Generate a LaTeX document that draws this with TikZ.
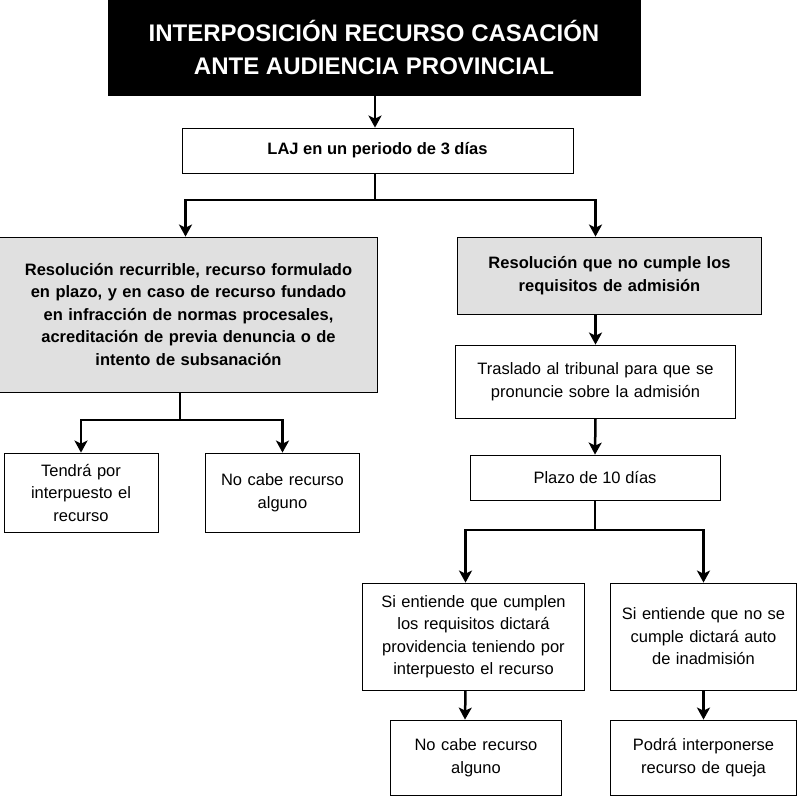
\documentclass[tikz,border=0pt]{standalone}
\usepackage{fontspec}
\setmainfont{Liberation Sans}
\usetikzlibrary{arrows.meta,calc}
\definecolor{grisbox}{RGB}{224,224,224}

\tikzset{
  caja/.style={draw=black, line width=0.8pt, align=center, inner sep=2pt,
    font=\fontsize{16.5}{22.5}\selectfont},
  gris/.style={caja, fill=grisbox, font=\bfseries\fontsize{16.5}{22.5}\selectfont},
  flecha/.style={line width=2.5pt, -{Stealth[length=12pt,width=13pt,inset=3pt]}},
  linea/.style={line width=2.5pt}
}

\begin{document}
\begin{tikzpicture}[x=1pt,y=-1pt]
    \useasboundingbox (0,0) rectangle (800,800);

    % cabecera
    \node[caja, fill=black, text=white, minimum width=532pt, minimum height=95pt,
      font=\bfseries\fontsize{24}{33}\selectfont] (titulo) at (374,47.5)
      {INTERPOSICIÓN RECURSO CASACIÓN\\ANTE AUDIENCIA PROVINCIAL};
    \node[caja, font=\bfseries\fontsize{16.5}{22}\selectfont, minimum width=391pt, minimum height=45pt] (laj) at (377.5,150.5)
      {LAJ en un periodo de 3 días};

    % rama izquierda
    \node[gris, text width=374pt, minimum height=155pt] (lgris) at (188.5,314.5)
      {Resolución recurrible, recurso formulado\\en plazo, y en caso de recurso fundado\\en infracción de normas procesales,\\acreditación de previa denuncia o de\\intento de subsanación};
    \node[caja, text width=150pt, minimum height=79pt] (tendra) at (81,492.5)
      {Tendrá por\\interpuesto el\\recurso};
    \node[caja, text width=150pt, minimum height=79pt] (nocabeA) at (282.5,492.5)
      {No cabe recurso\\alguno};

    % rama derecha
    \node[gris, text width=300pt, minimum height=77pt] (rgris) at (609.5,275.5)
      {Resolución que no cumple los\\requisitos de admisión};
    \node[caja, text width=276pt, minimum height=73pt] (traslado) at (595.5,381.5)
      {Traslado al tribunal para que se\\pronuncie sobre la admisión};
    \node[caja, minimum width=250pt, minimum height=45pt] (plazo) at (595,477.5)
      {Plazo de 10 días};
    \node[caja, text width=218pt, minimum height=107pt] (cumple) at (473.5,636.5)
      {Si entiende que cumplen\\los requisitos dictará\\providencia teniendo por\\interpuesto el recurso};
    \node[caja, text width=182pt, minimum height=107pt] (nocumple) at (703.5,636.5)
      {Si entiende que no se\\cumple dictará auto\\de inadmisión};
    \node[caja, text width=167pt, minimum height=75pt] (nocabeB) at (476,757.5)
      {No cabe recurso\\alguno};
    \node[caja, text width=182pt, minimum height=75pt] (queja) at (703.5,757.5)
      {Podrá interponerse\\recurso de queja};

    % conectores
    \coordinate (f1) at (375,200);
    \coordinate (f2) at (180,420);
    \coordinate (f3) at (595,530);

    \draw[flecha] (titulo.south -| f1) -- (laj.north -| f1);
    \draw[linea] (laj.south -| f1) -- (f1);
    \draw[flecha] (f1) -| ($(lgris.north)+(-3,0)$);
    \draw[flecha] (f1) -| ($(rgris.north)+(-14,0)$);

    \draw[linea] (lgris.south -| f2) -- (f2);
    \draw[flecha] (f2) -| (tendra.north);
    \draw[flecha] (f2) -| (nocabeA.north);

    \draw[flecha] (rgris.south -| traslado.north) -- (traslado.north);
    \draw[flecha] (traslado.south) -- (plazo.north);
    \draw[linea] (plazo.south) -- (f3);
    \draw[flecha] (f3) -| ($(cumple.north)+(-8,0)$);
    \draw[flecha] (f3) -| (nocumple.north);

    \draw[flecha] ($(cumple.south)+(-8,0)$) -- ($(nocabeB.north)+(-11,0)$);
    \draw[flecha] (nocumple.south) -- (queja.north);
\end{tikzpicture}
\end{document}
